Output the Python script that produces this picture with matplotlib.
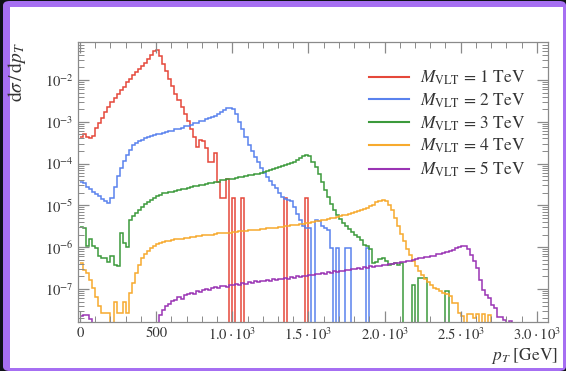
import matplotlib
matplotlib.use("Agg")
import matplotlib.pyplot as plt
import numpy as np
from matplotlib.patches import FancyBboxPatch
from matplotlib.ticker import FixedLocator, MultipleLocator, LogLocator, NullFormatter

# log10(dsigma/dpT) per 20 GeV bin, starting at pT = 0; None = empty bin
bin_width = 20
red_log = [
    -3.36, -3.30, -3.36, -3.38, -3.33, -3.15, -3.02, -2.90, -2.76, -2.65,
    -2.52, -2.44, -2.33, -2.24, -2.16, -2.04, -1.97, -1.88, -1.81, -1.74,
    -1.66, -1.59, -1.50, -1.39, -1.31, -1.28, -1.43, -1.62, -1.79, -1.97,
    -2.14, -2.33, -2.47, -2.64, -2.81, -2.99, -3.17, -3.36, -3.60, -3.44,
    -3.45, -3.63, -3.96, -3.97, -3.75, -4.45, -4.83, -4.83, -4.38, None,
    -4.83, None, None, -4.83, None, None, None, None, None, None,
    None, None, None, None, None, None, None, -4.83, None, None,
    None, None, None, None, -4.83,
]
blue_log = [
    -4.45, -4.46, -4.55, -4.60, -4.68, -4.72, -4.78, -4.85, -4.90, -4.95,
    -4.82, -4.55, -4.30, -4.10, -3.93, -3.80, -3.67, -3.56, -3.50, -3.45,
    -3.43, -3.39, -3.37, -3.34, -3.31, -3.29, -3.28, -3.26, -3.25, -3.23,
    -3.21, -3.18, -3.16, -3.14, -3.11, -3.09, -3.07, -3.04, -3.02, -2.99,
    -2.97, -2.94, -2.92, -2.88, -2.85, -2.81, -2.77, -2.72, -2.68, -2.67,
    -2.70, -2.82, -3.00, -3.18, -3.36, -3.55, -3.70, -3.84, -3.97, -4.10,
    -4.22, -4.32, -4.42, -4.50, -4.58, -4.70, -4.80, -4.85, -4.87, -4.90,
    -5.05, -5.20, -5.35, -5.50, -5.55, -5.55, None, -5.35, -5.38, -5.50,
    -5.55, -5.60, -6.02, None, -6.02, None, None, -6.02, -6.02, None,
    None, None, None, None, -6.02,
]
green_log = [
    -5.52, -5.55, -5.98, -5.80, -5.98, -6.02, -6.22, -6.25, -6.27, -6.35,
    -6.22, -6.42, -6.45, -5.66, -5.90, -6.00, -5.34, -5.26, -5.18, -5.10,
    -5.03, -4.96, -4.91, -4.86, -4.82, -4.77, -4.74, -4.71, -4.71, -4.68,
    -4.67, -4.65, -4.64, -4.61, -4.60, -4.58, -4.56, -4.54, -4.53, -4.52,
    -4.50, -4.49, -4.47, -4.46, -4.44, -4.43, -4.40, -4.40, -4.38, -4.36,
    -4.36, -4.34, -4.32, -4.31, -4.30, -4.28, -4.27, -4.25, -4.24, -4.22,
    -4.20, -4.18, -4.16, -4.13, -4.11, -4.09, -4.06, -4.03, -4.01, -3.98,
    -3.95, -3.91, -3.86, -3.82, -3.79, -3.82, -3.95, -4.08, -4.26, -4.45,
    -4.64, -4.80, -4.96, -5.10, -5.22, -5.33, -5.42, -5.50, -5.56, -5.64,
    -5.70, -5.76, -5.82, -5.95, -5.98, -6.05, -6.38, -6.35, -6.28, -6.25,
    -6.32, -6.42, -6.40, -6.38, -6.42, -6.38, None, None, None, -6.90,
    None, -6.74, -6.74, -6.74, None, None, None, None, None, None,
    -7.06,
]
orange_log = [
    -6.38, -6.55, -6.62, -6.78, -6.98, -7.18, -7.40, -7.57, -7.57, -7.57,
    None, -7.30, -7.57, -7.57, -7.30, -7.57, -7.10, -6.85, -6.62, -6.42,
    -6.27, -6.16, -6.08, -6.02, -5.97, -5.93, -5.90, -5.87, -5.86, -5.84,
    -5.82, -5.81, -5.80, -5.80, -5.78, -5.77, -5.76, -5.76, -5.74, -5.74,
    -5.72, -5.72, -5.70, -5.70, -5.68, -5.67, -5.67, -5.66, -5.65, -5.65,
    -5.64, -5.63, -5.62, -5.62, -5.61, -5.60, -5.59, -5.59, -5.58, -5.57,
    -5.56, -5.55, -5.55, -5.54, -5.53, -5.52, -5.51, -5.50, -5.50, -5.48,
    -5.47, -5.46, -5.45, -5.44, -5.42, -5.41, -5.40, -5.38, -5.37, -5.35,
    -5.34, -5.33, -5.31, -5.29, -5.27, -5.26, -5.24, -5.22, -5.20, -5.18,
    -5.16, -5.14, -5.12, -5.09, -5.06, -5.02, -4.98, -4.93, -4.89, -4.87,
    -4.90, -5.00, -5.12, -5.30, -5.50, -5.68, -5.86, -6.04, -6.18, -6.34,
    -6.46, -6.58, -6.66, -6.76, -6.83, -6.90, -6.97, -7.00, -7.06, -7.10,
    -7.12, -7.16, -7.33, -7.33, -7.57, -7.65, None, -7.60, -7.60, -7.70,
    -7.60, None, -7.60, None, -7.62,
]
purple_log = [
    -7.65, -7.62, -7.62, -7.72, None, None, None, None, None, None,
    None, None, None, None, None, None, None, None, None, None,
    None, None, None, None, None, None, -7.62, -7.50, -7.40, -7.36,
    -7.28, -7.26, -7.20, -7.23, -7.15, -7.12, -7.10, -7.13, -7.05, -7.08,
    -7.02, -7.00, -7.03, -6.98, -6.96, -6.97, -6.94, -6.92, -6.95, -6.90,
    -6.91, -6.88, -6.90, -6.86, -6.87, -6.84, -6.86, -6.82, -6.83, -6.80,
    -6.82, -6.79, -6.80, -6.77, -6.78, -6.75, -6.77, -6.73, -6.75, -6.72,
    -6.73, -6.70, -6.71, -6.68, -6.70, -6.66, -6.67, -6.64, -6.65, -6.62,
    -6.63, -6.60, -6.61, -6.58, -6.59, -6.56, -6.57, -6.54, -6.55, -6.52,
    -6.53, -6.50, -6.51, -6.48, -6.49, -6.46, -6.47, -6.44, -6.45, -6.42,
    -6.43, -6.40, -6.40, -6.37, -6.38, -6.35, -6.35, -6.32, -6.33, -6.30,
    -6.29, -6.27, -6.26, -6.24, -6.23, -6.21, -6.20, -6.17, -6.16, -6.13,
    -6.12, -6.09, -6.07, -6.03, -6.00, -5.97, -5.96, -6.05, -6.18, -6.32,
    -6.50, -6.78, -7.02, -7.14, -7.21, -7.38, -7.45, -7.67, -7.67, -7.74,
    None, -7.76,
]

series = [red_log, blue_log, green_log, orange_log, purple_log]
labels = [r"$M_{\rm VLT}$ = 1 TeV", r"$M_{\rm VLT}$ = 2 TeV", r"$M_{\rm VLT}$ = 3 TeV",
          r"$M_{\rm VLT}$ = 4 TeV", r"$M_{\rm VLT}$ = 5 TeV"]
colors = ["#e5483a", "#5a82ee", "#3c9a3c", "#f7aa2e", "#9a34b4"]

xticks = [0, 500, 1000, 1500, 2000, 2500, 3000]
xticklabels = ["0", "500", r"$1.0\cdot10^{3}$", r"$1.5\cdot10^{3}$", r"$2.0\cdot10^{3}$",
               r"$2.5\cdot10^{3}$", r"$3.0\cdot10^{3}$"]

plt.rcParams["font.family"] = "STIXGeneral"
plt.rcParams["mathtext.fontset"] = "stix"

W, H = 566, 371
fig = plt.figure(figsize=(W / 100, H / 100), dpi=100, facecolor="#0e1117")

# purple frame and white card
fig.patches.append(FancyBboxPatch((3 / W, 0), 1 - 3 / W, 1 - 1 / H, boxstyle="round,pad=0,rounding_size=0.012",
                                  transform=fig.transFigure, facecolor="#a66ff2", edgecolor="none", zorder=-3))
fig.patches.append(FancyBboxPatch((10 / W, 3 / H), 1 - 13 / W, 1 - 10 / H, boxstyle="square,pad=0",
                                  transform=fig.transFigure, facecolor="white", edgecolor="none", zorder=-2))

ax = fig.add_axes([78.5 / W, 49 / H, 469 / W, 280 / H])
ax.set_facecolor("white")

nmax = max(len(s) for s in series) + 2
edges = np.arange(nmax + 1) * bin_width
for s, lab, c in zip(series, labels, colors):
    padded = list(s) + [None] * (nmax - len(s))
    vals = np.array([10.0 ** v if v is not None else 1e-12 for v in padded])
    ax.stairs(vals, edges, baseline=None, color=c, lw=1.1)
    ax.plot([], [], color=c, lw=1.5, label=lab)

ax.set_yscale("log")
ax.set_xlim(-10, 3070)
ax.set_ylim(10 ** -7.79, 10 ** -1.09)

ax.xaxis.set_major_locator(FixedLocator(xticks))
ax.set_xticklabels(xticklabels)
ax.xaxis.set_minor_locator(MultipleLocator(100))
ax.yaxis.set_major_locator(LogLocator(base=10, numticks=20))
ax.yaxis.set_minor_locator(LogLocator(base=10, subs=np.arange(2, 10), numticks=20))
ax.yaxis.set_minor_formatter(NullFormatter())

ax.tick_params(which="both", direction="in", top=True, right=True, color="#8a8a8a",
               labelcolor="#333333", labelsize=10.5)
ax.tick_params(which="major", length=8, width=0.9)
ax.tick_params(which="minor", length=4, width=0.7)
for sp in ax.spines.values():
    sp.set_color("#8a8a8a")
    sp.set_linewidth(0.9)

ax.set_ylabel(r"$\mathrm{d}\sigma\,/\,\mathrm{d}p_T$", loc="top", fontsize=14, color="#333333")
ax.yaxis.set_label_coords(-0.108, 1.0)
ax.set_xlabel(r"$p_T$ [GeV]", loc="right", fontsize=12.5, color="#333333")
ax.xaxis.set_label_coords(1.022, -0.085)

ax.legend(loc="upper right", bbox_to_anchor=(0.985, 0.96), frameon=False, fontsize=12.5,
          handlelength=2.3, handletextpad=0.6, labelspacing=0.25, labelcolor="#333333")

fig.savefig("out.png", dpi=100, facecolor=fig.get_facecolor())
